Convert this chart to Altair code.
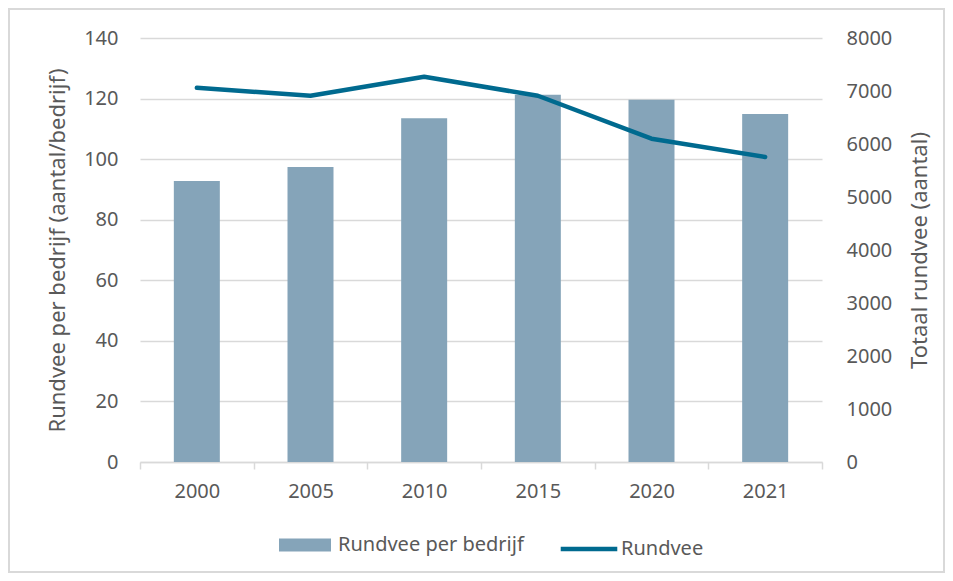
import altair as alt
import pandas as pd

years = ["2000", "2005", "2010", "2015", "2020", "2021"]
per_bedrijf = [92.8, 97.4, 113.5, 121.3, 119.6, 114.9]
rundvee = [7060, 6910, 7270, 6910, 6100, 5755]
series_names = ["Rundvee per bedrijf", "Rundvee"]

BAR = "#85a4b9"
LINE = "#006a8f"
TXT = "#595959"
GRID = "#d9d9d9"
FONT = "Noto Sans"

df = pd.DataFrame({"year": years, "per_bedrijf": per_bedrijf, "rundvee": rundvee})

LEG_Y = 424 + 56


def legend(xpos, shape, size, offset, stroke_w=None):
    kw = dict(
        title=None,
        orient="none",
        direction="horizontal",
        legendX=xpos,
        legendY=LEG_Y,
        labelFont=FONT,
        labelFontSize=20,
        labelColor=TXT,
        labelOffset=offset,
        labelLimit=400,
        symbolType=shape,
        symbolSize=size,
        symbolOpacity=1,
    )
    if stroke_w is not None:
        kw["symbolStrokeWidth"] = stroke_w
    return alt.Legend(**kw)


x = alt.X(
    "year:O",
    sort=years,
    scale=alt.Scale(paddingInner=0, paddingOuter=0),
    axis=alt.Axis(
        title=None,
        labelAngle=0,
        labelFont=FONT,
        labelFontSize=20,
        labelColor=TXT,
        labelPadding=12,
        domainColor=GRID,
        domainWidth=1.5,
        tickColor=GRID,
        tickWidth=1.5,
        tickSize=7,
        tickBand="extent",
        grid=False,
    ),
)

bars = alt.Chart(df).transform_calculate(series="'Rundvee per bedrijf'").mark_bar(size=46).encode(
    x=x,
    y=alt.Y(
        "per_bedrijf:Q",
        scale=alt.Scale(domain=[0, 140], nice=False),
        axis=alt.Axis(
            title="Rundvee per bedrijf (aantal/bedrijf)",
            titleFont=FONT,
            titleFontSize=22,
            titleFontWeight="normal",
            titleColor=TXT,
            titlePadding=14,
            values=list(range(0, 141, 20)),
            labelFont=FONT,
            labelFontSize=20,
            labelColor=TXT,
            labelPadding=22,
            domain=False,
            ticks=False,
            grid=True,
            gridColor=GRID,
            gridWidth=1.5,
        ),
    ),
    fill=alt.Fill(
        "series:N",
        scale=alt.Scale(domain=[series_names[0]], range=[BAR]),
        legend=legend(138, "M-1,-0.25H1V0.25H-1Z", 2704, 6),
    ),
)

line = alt.Chart(df).transform_calculate(series="'Rundvee'").mark_line(
    strokeWidth=4.5, strokeCap="round", strokeJoin="round"
).encode(
    x=x,
    y=alt.Y(
        "rundvee:Q",
        scale=alt.Scale(domain=[0, 8000], nice=False),
        axis=alt.Axis(
            title="Totaal rundvee (aantal)",
            titleFont=FONT,
            titleFontSize=22,
            titleFontWeight="normal",
            titleColor=TXT,
            titlePadding=40,
            titleAngle=270,
            orient="right",
            format="d",
            values=list(range(0, 8001, 1000)),
            labelFont=FONT,
            labelFontSize=20,
            labelColor=TXT,
            labelPadding=24,
            domain=False,
            ticks=False,
            grid=False,
        ),
    ),
    stroke=alt.Stroke(
        "series:N",
        scale=alt.Scale(domain=[series_names[1]], range=[LINE]),
        legend=legend(418, "stroke", 3200, 1, 4.5),
    ),
)

border = alt.Chart(df).mark_rect(fill=None, stroke=GRID, strokeWidth=1.5).encode(
    x=alt.value(-131), x2=alt.value(682 + 122), y=alt.value(-29), y2=alt.value(424 + 110)
)

chart = (
    alt.layer(border, bars, line)
    .resolve_scale(y="independent")
    .properties(
        width=682,
        height=424,
        autosize=alt.AutoSizeParams(type="none"),
        padding={"left": 132, "top": 30, "right": 123, "bottom": 111},
    )
    .configure_view(stroke=None)
)

chart.save("out.html", embed_options={"renderer": "svg", "actions": False})
